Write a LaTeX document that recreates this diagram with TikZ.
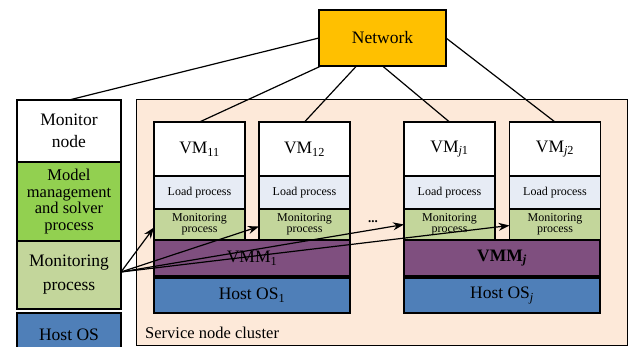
\documentclass[tikz,border=0pt]{standalone}
\usepackage{fontspec}
\setmainfont{Liberation Serif}
\usetikzlibrary{positioning,arrows.meta}

\definecolor{netorange}{HTML}{FFC000}
\definecolor{modelgreen}{HTML}{92D050}
\definecolor{mongreen}{HTML}{C3D69B}
\definecolor{loadblue}{HTML}{E7ECF5}
\definecolor{vmmpurple}{HTML}{7F4F7F}
\definecolor{hostblue}{HTML}{4F7FB8}
\definecolor{clusterbg}{HTML}{FDE9D9}

\begin{document}
\begin{tikzpicture}[x=1pt,y=1pt,
		box/.style={rectangle, draw, line width=1.3pt, inner sep=0pt, outer sep=0pt, align=center, font=\rmfamily\fontsize{17.5}{20}\selectfont},
		vmbox/.style={box, minimum width=91pt},
		small/.style={font=\rmfamily\fontsize{12}{10.5}\selectfont},
		link/.style={line width=1.2pt},
		arrow/.style={-{Stealth[length=11pt,width=8pt]}, line width=1.2pt}
	]
	\clip (0,0) rectangle (629,347);
	\fill[white] (0,0) rectangle (629,347);

	% network
	\node[box, fill=netorange, minimum width=127pt, minimum height=56pt] (net) at (382.5,309) {Network};

	% monitor node column
	\node[box, fill=white, minimum width=104pt, minimum height=62pt, anchor=north] (mnode) at (69,247) {Monitor\\[2pt]node};
	\node[box, fill=modelgreen, minimum width=104pt, minimum height=79pt, below=0pt of mnode, font=\rmfamily\fontsize{16.5}{16.7}\selectfont] (model) {Model\\management\\and solver\\process};
	\node[box, fill=mongreen, minimum width=104pt, minimum height=68pt, below=0pt of model, font=\rmfamily\fontsize{17.5}{24}\selectfont] (monproc) {Monitoring\\process};
	\node[box, fill=hostblue, minimum width=104pt, minimum height=44pt, below=4pt of monproc] (mhost) {Host OS};

	% service node cluster
	\node[draw, line width=1.1pt, fill=clusterbg, minimum width=491pt, minimum height=246pt, anchor=north west, inner sep=0pt] (cluster) at (136,248) {};
	\node[anchor=base west, inner sep=0pt, font=\rmfamily\fontsize{16.5}{18}\selectfont] (clabel) at ([xshift=9pt,yshift=8pt]cluster.south west) {Service node cluster};

	% first server
	\node[vmbox, fill=white, minimum height=54pt, anchor=north] (vm11) at (199.5,225) {VM\textsubscript{11}};
	\node[vmbox, fill=loadblue, minimum height=33pt, below=0pt of vm11, small] (load11) {Load process};
	\node[vmbox, fill=mongreen, minimum height=31pt, below=0pt of load11, small] (mon11) {Monitoring\\process};
	\node[vmbox, fill=white, minimum height=54pt, anchor=north] (vm12) at (304.5,225) {VM\textsubscript{12}};
	\node[vmbox, fill=loadblue, minimum height=33pt, below=0pt of vm12, small] (load12) {Load process};
	\node[vmbox, fill=mongreen, minimum height=31pt, below=0pt of load12, small] (mon12) {Monitoring\\process};
	\node[box, fill=vmmpurple, minimum width=196pt, minimum height=36pt, anchor=north west] (vmm1) at (mon11.south west) {VMM\textsubscript{1}};
	\node[box, fill=hostblue, minimum width=196pt, minimum height=35pt, below=2pt of vmm1] (host1) {Host OS\textsubscript{1}};

	\node[font=\rmfamily\fontsize{13}{13}\selectfont\bfseries] (dots) at (373,125) {...};

	% j-th server
	\node[vmbox, fill=white, minimum height=54pt, anchor=north] (vmj1) at (449.5,225) {VM\textsubscript{\textit{j}1}};
	\node[vmbox, fill=loadblue, minimum height=33pt, below=0pt of vmj1, small] (loadj1) {Load process};
	\node[vmbox, fill=mongreen, minimum height=31pt, below=0pt of loadj1, small] (monj1) {Monitoring\\process};
	\node[vmbox, fill=white, minimum height=54pt, anchor=north] (vmj2) at (555,225) {VM\textsubscript{\textit{j}2}};
	\node[vmbox, fill=loadblue, minimum height=33pt, below=0pt of vmj2, small] (loadj2) {Load process};
	\node[vmbox, fill=mongreen, minimum height=31pt, below=0pt of loadj2, small] (monj2) {Monitoring\\process};
	\node[box, fill=vmmpurple, minimum width=196pt, minimum height=36pt, anchor=north west] (vmmj) at (monj1.south west) {\textbf{VMM\textsubscript{\textit{j}}}};
	\node[box, fill=hostblue, minimum width=196pt, minimum height=35pt, below=2pt of vmmj] (hostj) {Host OS\textsubscript{\textit{j}}};

	% network links
	\draw[link] (net.west) -- (mnode.north);
	\draw[link] ([xshift=2pt]net.south west) -- (vm11.north);
	\draw[link] ([xshift=-26pt]net.south) -- (vm12.north);
	\draw[link] (net.south) -- (vmj1.north);
	\draw[link] (net.east) -- (vmj2.north);

	% monitoring arrows
	\coordinate (mp) at ([yshift=3pt]monproc.east);
	\draw[arrow] (mp) -- ([yshift=-3pt]mon11.west);
	\draw[arrow] (mp) -- ([yshift=-2pt]mon12.west);
	\draw[arrow] (mp) -- (monj1.west);
	\draw[arrow] (mp) -- ([yshift=-1pt]monj2.west);
\end{tikzpicture}
\end{document}
